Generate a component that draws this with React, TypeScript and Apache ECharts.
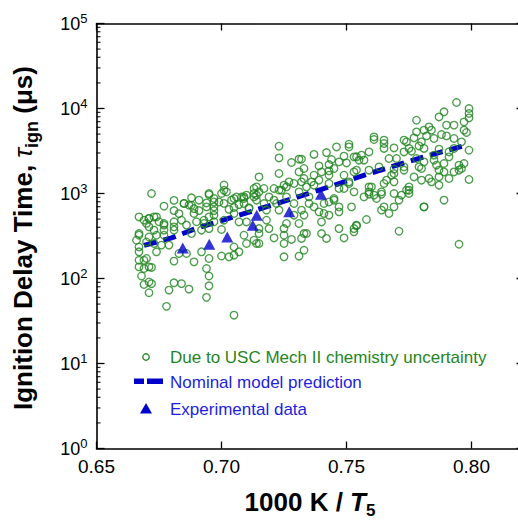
import React, { useEffect, useRef } from "react";
import * as echarts from "echarts";

// ---------- data ----------
const xTickLabels = [0.65, 0.7, 0.75, 0.8];
const yDecades = [1, 10, 100, 1000, 10000, 100000];
const minorMultipliers = [2, 3, 4, 5, 6, 7, 8, 9];

const nominalX = [0.669, 0.68, 0.69, 0.7, 0.71, 0.72, 0.73, 0.74, 0.75, 0.76, 0.77, 0.78, 0.79, 0.797];
const nominalY = [245, 300, 390, 480, 590, 730, 900, 1120, 1400, 1750, 2150, 2650, 3200, 3650];

const experimentalX = [0.6845, 0.6951, 0.7023, 0.7125, 0.7141, 0.7271, 0.7398];
const experimentalY = [229, 253, 308, 424, 556, 608, 982];

const uncertaintyPoints: [number, number][] = [
  [0.701, 1260], [0.667, 530], [0.677, 710], [0.681, 830], [0.688, 890], [0.695, 970], [0.7, 1000], [0.701, 1090],
  [0.694, 775], [0.685, 765], [0.687, 730], [0.689, 665], [0.681, 630], [0.683, 580], [0.691, 630], [0.697, 630],
  [0.671, 510], [0.673, 530], [0.674, 530], [0.675, 465], [0.67, 445], [0.677, 425], [0.681, 465], [0.686, 425],
  [0.69, 465], [0.693, 445], [0.697, 465], [0.701, 765], [0.704, 835], [0.706, 910], [0.708, 910], [0.697, 795],
  [0.703, 650], [0.705, 685], [0.695, 530], [0.697, 555], [0.701, 485], [0.667, 323], [0.671, 308], [0.677, 323],
  [0.681, 370], [0.688, 338], [0.692, 370], [0.695, 387], [0.7, 377],
  [0.67, 269], [0.667, 235], [0.667, 206], [0.673, 258], [0.674, 206], [0.676, 247], [0.679, 247], [0.667, 164],
  [0.669, 164], [0.67, 172], [0.667, 137], [0.669, 131], [0.672, 135], [0.668, 107], [0.681, 160], [0.689, 157],
  [0.683, 197], [0.686, 197], [0.692, 206], [0.695, 172], [0.694, 131], [0.695, 107], [0.695, 82], [0.694, 60],
  [0.671, 91], [0.672, 87], [0.669, 85], [0.681, 89], [0.684, 87], [0.687, 75], [0.679, 73], [0.671, 68],
  [0.678, 47], [0.705, 37], [0.7, 184], [0.703, 180], [0.705, 188], [0.705, 235], [0.707, 206], [0.671, 137],
  [0.723, 3600], [0.723, 2620], [0.728, 2315], [0.731, 2535], [0.732, 2535], [0.733, 1970], [0.737, 2880], [0.742, 3030],
  [0.746, 3530], [0.751, 3800], [0.751, 3530], [0.754, 2700], [0.749, 2750], [0.744, 2510], [0.747, 2355], [0.739, 2110],
  [0.743, 2190], [0.745, 1970], [0.75, 2290], [0.723, 1720], [0.731, 1795], [0.74, 1795], [0.743, 1845], [0.715, 1567],
  [0.727, 1371], [0.732, 1371], [0.737, 1641], [0.754, 1880], [0.749, 1641], [0.751, 1371], [0.753, 1045], [0.721, 1146],
  [0.726, 1197], [0.724, 1094], [0.717, 1146], [0.713, 1000], [0.71, 955], [0.734, 1197], [0.737, 1253], [0.743, 1312],
  [0.747, 1146], [0.736, 1371],
  [0.709, 763], [0.711, 667], [0.71, 463], [0.709, 323], [0.715, 387], [0.715, 338], [0.719, 387], [0.721, 300],
  [0.71, 258], [0.713, 282], [0.714, 258], [0.715, 258], [0.725, 323], [0.725, 258], [0.728, 288], [0.732, 296],
  [0.733, 338], [0.734, 338], [0.725, 180], [0.731, 183], [0.733, 215], [0.718, 485], [0.725, 387], [0.726, 444],
  [0.729, 556], [0.731, 444], [0.732, 637], [0.733, 556], [0.735, 763], [0.739, 608], [0.74, 463], [0.741, 582],
  [0.743, 556], [0.742, 296], [0.74, 338], [0.747, 387], [0.747, 608], [0.749, 300], [0.752, 696], [0.753, 387],
  [0.754, 416], [0.743, 795], [0.745, 834], [0.723, 637], [0.729, 763],
  [0.794, 11770], [0.799, 10000], [0.799, 8730], [0.799, 7750], [0.789, 9140], [0.787, 7960], [0.778, 7280], [0.79, 6370],
  [0.793, 6370], [0.797, 6950], [0.797, 5560], [0.798, 5220], [0.783, 6080], [0.784, 5560], [0.781, 5560], [0.778, 5310],
  [0.782, 4760], [0.777, 4510], [0.785, 4440], [0.788, 4940], [0.79, 4760], [0.793, 4440], [0.796, 4050], [0.799, 3230],
  [0.773, 4240], [0.774, 4050], [0.775, 3388], [0.779, 3630], [0.78, 4050], [0.781, 3388], [0.787, 3320], [0.791, 3085],
  [0.793, 3388], [0.765, 4240], [0.765, 3873], [0.761, 4630], [0.761, 4315], [0.769, 3437], [0.765, 3388], [0.77, 2580],
  [0.773, 3085], [0.776, 3145], [0.778, 2580], [0.781, 2355], [0.785, 2823], [0.786, 2153], [0.789, 2254], [0.795, 2153],
  [0.795, 1880], [0.797, 2254], [0.756, 2823], [0.759, 3085], [0.757, 2465], [0.753, 2698], [0.763, 2056], [0.767, 2580],
  [0.769, 1932], [0.759, 1880], [0.787, 1880], [0.78, 1968], [0.773, 2056], [0.789, 1795],
  [0.799, 1462], [0.789, 834], [0.795, 253], [0.781, 696], [0.771, 360], [0.769, 696], [0.767, 582], [0.764, 637],
  [0.765, 696], [0.758, 494], [0.754, 424], [0.753, 354], [0.759, 1197], [0.759, 982], [0.761, 955], [0.764, 982],
  [0.765, 1312], [0.769, 1000], [0.769, 1718], [0.769, 1371], [0.772, 955], [0.775, 1197], [0.775, 1000], [0.775, 1094],
  [0.78, 1435], [0.784, 1371], [0.787, 1253], [0.787, 1567], [0.791, 1500],
  [0.667, 338], [0.666, 282], [0.669, 485], [0.671, 508], [0.671, 405], [0.673, 370], [0.674, 323], [0.677, 444],
  [0.677, 370], [0.681, 405], [0.684, 485], [0.685, 763], [0.688, 728], [0.689, 582], [0.691, 834], [0.693, 485],
  [0.695, 1000], [0.697, 696], [0.699, 795], [0.702, 1045], [0.705, 582], [0.707, 463], [0.709, 912], [0.713, 912],
  [0.714, 834], [0.717, 763], [0.718, 637], [0.721, 834], [0.722, 763], [0.723, 1095], [0.725, 1253], [0.726, 912],
  [0.729, 1312], [0.731, 1045], [0.733, 1500], [0.735, 912], [0.737, 696], [0.739, 1435], [0.741, 763], [0.743, 1641],
  [0.745, 873], [0.747, 696], [0.749, 1146], [0.751, 1312], [0.753, 1795], [0.755, 2465], [0.757, 912], [0.759, 1045],
  [0.76, 1197], [0.762, 873], [0.764, 1045], [0.766, 1435], [0.768, 1641], [0.771, 834], [0.773, 1880], [0.774, 1095],
  [0.777, 1567], [0.779, 2056], [0.781, 696], [0.783, 1500], [0.785, 2465], [0.791, 2698], [0.793, 1795], [0.796, 1968],
  [0.694, 696], [0.697, 873], [0.709, 873], [0.714, 955], [0.713, 1146], [0.705, 873], [0.707, 740], [0.711, 680],
  [0.715, 1045], [0.719, 912], [0.714, 1197], [0.672, 1000],
];

// ---------- styling ----------
const FONT = "'Liberation Sans', Arial, Helvetica, sans-serif";
const GREEN = "#1f851f";
const BLUE = "#0000cc";
const TEXT_BLUE = "#1e1ee0";

export default function App() {
  const ref = useRef<HTMLDivElement>(null);

  useEffect(() => {
    if (!ref.current) return;
    const chart = echarts.init(ref.current, undefined, { renderer: "svg" });

    const minorTicks: number[] = [];
    yDecades.slice(0, -1).forEach((d) => minorMultipliers.forEach((m) => minorTicks.push(m * d)));

    const axisLine = { show: true, onZero: false, lineStyle: { color: "#000", width: 1.6 } };
    const tickStyle = { color: "#000", width: 1.3 };
    const xMin = 0.65;
    const xMax = 0.8212;
    const pxPerUnit = 2500;

    const option: any = {
      animation: false,
      backgroundColor: "#fff",
      grid: { left: 96.5, top: 23.5, width: (xMax - xMin) * pxPerUnit, height: 425, show: false },
      xAxis: [
        {
          type: "value",
          min: xMin,
          max: xMax,
          interval: 0.05,
          position: "bottom",
          axisLine,
          axisTick: { show: true, inside: true, length: 7, lineStyle: tickStyle },
          axisLabel: {
            margin: 8,
            fontSize: 19,
            fontFamily: FONT,
            color: "#000",
            showMaxLabel: false,
            formatter: (v: number) =>
              xTickLabels.some((t) => Math.abs(t - v) < 1e-6) ? v.toFixed(2) : "",
          },
          splitLine: { show: false },
        },
        {
          type: "value",
          min: xMin,
          max: xMax,
          interval: 0.05,
          position: "top",
          axisLine,
          axisTick: { show: true, inside: true, length: 7, lineStyle: tickStyle },
          axisLabel: { show: false },
          splitLine: { show: false },
        },
      ],
      yAxis: [
        {
          type: "log",
          logBase: 10,
          min: 1,
          max: 100000,
          position: "left",
          axisLine,
          axisTick: { show: true, inside: true, length: 8, lineStyle: tickStyle },
          axisLabel: {
            margin: 9,
            showMinLabel: true,
            showMaxLabel: true,
            formatter: (v: number) => `{b|10}{s|${Math.round(Math.log10(v))}}`,
            rich: {
              b: { fontSize: 18, fontFamily: FONT, color: "#000", lineHeight: 24 },
              s: { fontSize: 13, fontFamily: FONT, color: "#000", lineHeight: 13, verticalAlign: "top" },
            },
          },
          splitLine: { show: false },
        },
        {
          type: "log",
          logBase: 10,
          min: 1,
          max: 100000,
          position: "right",
          axisLine: { show: false },
          axisTick: { show: true, inside: true, length: 8, lineStyle: tickStyle },
          axisLabel: { show: false },
          splitLine: { show: false },
        },
      ],
      series: [
        {
          name: "Nominal model prediction",
          type: "line",
          data: nominalX.map((x, i) => [x, nominalY[i]]),
          symbol: "none",
          showSymbol: false,
          lineStyle: { color: BLUE, width: 5, type: [13, 7], cap: "butt" },
          z: 2,
          silent: true,
        },
        {
          name: "Due to USC Mech II chemistry uncertainty",
          type: "scatter",
          data: uncertaintyPoints,
          symbol: "circle",
          symbolSize: 7.5,
          itemStyle: { color: "rgba(0,0,0,0)", borderColor: GREEN, borderWidth: 1.35 },
          z: 3,
          silent: true,
        },
        {
          name: "Experimental data",
          type: "scatter",
          data: experimentalX.map((x, i) => [x, experimentalY[i]]),
          symbol: "triangle",
          symbolSize: [12, 11],
          itemStyle: { color: BLUE },
          z: 4,
          silent: true,
        },
        {
          name: "minorTicks",
          type: "scatter",
          data: minorTicks.map((v) => [xMin, v]),
          symbol: "rect",
          symbolSize: [4, 1.3],
          symbolOffset: [2, 0],
          itemStyle: { color: "#000" },
          clip: false,
          z: 5,
          silent: true,
        },
      ],
      graphic: [
        // legend
        { type: "circle", shape: { cx: 146, cy: 357, r: 3.2 }, style: { fill: "none", stroke: GREEN, lineWidth: 1.3 } },
        { type: "rect", shape: { x: 134, y: 378.5, width: 10, height: 5.5 }, style: { fill: BLUE } },
        { type: "rect", shape: { x: 147, y: 378.5, width: 16, height: 5.5 }, style: { fill: BLUE } },
        { type: "polygon", shape: { points: [[146, 403], [140, 413.5], [152, 413.5]] }, style: { fill: BLUE } },
        {
          type: "text", x: 170, y: 357,
          style: { text: "Due to USC Mech II chemistry uncertainty", fill: GREEN, fontSize: 17, fontFamily: FONT, verticalAlign: "middle" },
        },
        {
          type: "text", x: 170, y: 382,
          style: { text: "Nominal model prediction", fill: TEXT_BLUE, fontSize: 17, fontFamily: FONT, verticalAlign: "middle" },
        },
        {
          type: "text", x: 170, y: 409,
          style: { text: "Experimental data", fill: TEXT_BLUE, fontSize: 17, fontFamily: FONT, verticalAlign: "middle" },
        },
        // x-axis title
        {
          type: "text", x: 310, y: 502,
          style: {
            text: "{b|1000 K / }{t|T}{s|5}",
            align: "center",
            verticalAlign: "middle",
            rich: {
              b: { fontSize: 26, fontWeight: "bold", fontFamily: FONT, fill: "#000", lineHeight: 33 },
              t: { fontSize: 26, fontWeight: "bold", fontStyle: "italic", fontFamily: FONT, fill: "#000", lineHeight: 33 },
              s: { fontSize: 17, fontWeight: "bold", fontFamily: FONT, fill: "#000", lineHeight: 17, verticalAlign: "bottom" },
            },
          },
        },
        // y-axis title
        {
          type: "text", x: 23, y: 238, rotation: Math.PI / 2,
          style: {
            text: "{b|Ignition Delay Time, }{t|τ}{s|ign}{b| (μs)}",
            align: "center",
            verticalAlign: "middle",
            rich: {
              b: { fontSize: 26, fontWeight: "bold", fontFamily: FONT, fill: "#000", lineHeight: 36 },
              t: { fontSize: 26, fontStyle: "italic", fontFamily: FONT, fill: "#000", lineHeight: 36 },
              s: { fontSize: 18, fontWeight: "bold", fontFamily: FONT, fill: "#000", lineHeight: 18, verticalAlign: "bottom" },
            },
          },
        },
      ],
    };

    chart.setOption(option);
    return () => chart.dispose();
  }, []);

  return (
    <div style={{ position: "fixed", left: 0, top: 0, width: 518, height: 520, overflow: "hidden", background: "#fff" }}>
      <div ref={ref} style={{ width: 545, height: 520 }} />
    </div>
  );
}
